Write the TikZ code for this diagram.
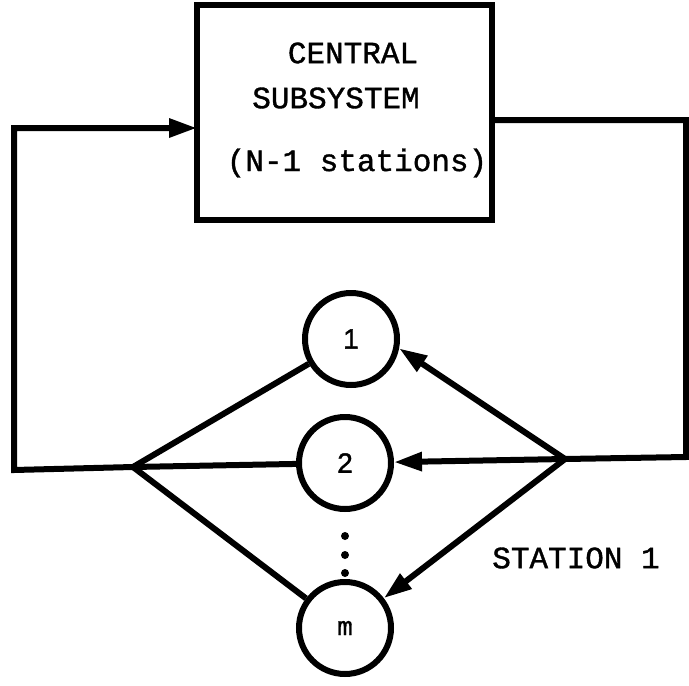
\documentclass[tikz,border=0pt]{standalone}
\usepackage{fontspec}
\setmonofont[FakeBold=1.2]{Liberation Mono}
\setsansfont[FakeBold=1.5]{Liberation Sans}
\usetikzlibrary{arrows.meta}
\begin{document}
\begin{tikzpicture}[x=1pt,y=-1pt,
  wire/.style={line width=6pt, line join=miter},
  arr/.style={wire, -{Triangle[length=28pt,width=18pt]}},
  boxstyle/.style={draw, line width=6pt, minimum width=295pt, minimum height=215pt, inner sep=0pt},
  station/.style={draw, circle, line width=6pt, minimum size=92pt, inner sep=0pt},
  numfont/.style={font=\sffamily\fontsize{28}{32}\selectfont},
  lbl/.style={font=\ttfamily\fontsize{31}{36}\selectfont, inner sep=0pt},
  dotstyle/.style={fill, circle, minimum size=8pt, inner sep=0pt}]
\useasboundingbox (0,0) rectangle (689,686);
% central box
\node[boxstyle] (box) at (344.5,112.5) {};
\node[lbl] (t1) at (353,53) {CENTRAL};
\node[lbl] (t2) at (336,98) {SUBSYSTEM};
\node[lbl] (t3) at (357,163) {(N-1 stations)};
% stations
\node[station, numfont] (c1) at (351,339) {1};
\node[station, numfont] (c2) at (345,463) {2};
\node[station, font=\ttfamily\fontsize{26}{30}\selectfont] (cm) at (345,628) {m};
\node[dotstyle] (d1) at (345,536) {};
\node[dotstyle] (d2) at (345,555) {};
\node[dotstyle] (d3) at (345,573) {};
\node[lbl] (st) at (576,558) {STATION 1};
% junctions and corners
\coordinate (JL) at (133,467);
\coordinate (JR) at (565,459);
\coordinate (LB) at (14,470);
\coordinate (LT) at (14,128);
\coordinate (BW) at (197,128);
\coordinate (BE) at (492,120);
\coordinate (RT) at (686,120);
\coordinate (RB) at (686,457);
% loop
\draw[arr] (JL) -- (LB) -- (LT) -- (BW);
\draw[wire] (BE) -- (RT) -- (RB) -- (JR);
% fan out
\draw[arr] (JR) -- (c1.-11);
\draw[arr] (JR) -- (c2);
\draw[arr] (JR) -- (cm);
% fan in
\draw[wire] (c1) -- (JL);
\draw[wire] (c2) -- (JL);
\draw[wire] (cm) -- (JL);
\end{tikzpicture}
\end{document}
